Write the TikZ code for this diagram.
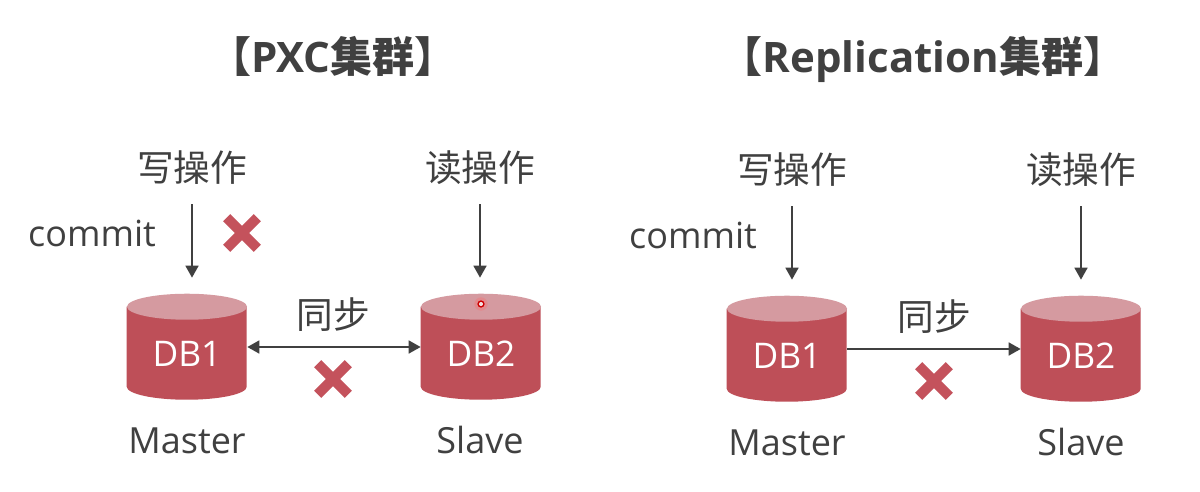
\documentclass[tikz,border=0pt]{standalone}
\usepackage{fontspec}
\setmainfont{Open Sans}
\newfontfamily\cjk{Noto Sans CJK SC}
\usetikzlibrary{arrows.meta}
\definecolor{dbred}{HTML}{BE4F58}
\definecolor{dbtop}{HTML}{D59AA0}
\definecolor{xred}{HTML}{C4525C}
\definecolor{txt}{HTML}{404040}
\tikzset{
 every node/.style={text=txt,inner sep=0pt},
 lab/.style={font=\fontsize{27pt}{28pt}\selectfont,text height=20pt,text depth=0pt},
 zh/.style={font=\cjk\fontsize{27.5pt}{28pt}\selectfont,text height=20pt,text depth=0pt},
 ttl/.style={font=\cjk\fontsize{31.5pt}{32pt}\selectfont\bfseries,text height=23pt,text depth=0pt},
 dbbox/.style={minimum width=90pt,minimum height=79.5pt},
 dblab/.style={font=\fontsize{26.5pt}{27pt}\selectfont,text=white},
 conn/.style={draw=txt,line width=1.8pt,-{Stealth[length=9pt,width=9.5pt,inset=0pt]}},
 both/.style={draw=txt,line width=1.8pt,{Stealth[length=9pt,width=9.5pt,inset=0pt]}-{Stealth[length=9pt,width=9.5pt,inset=0pt]}},
 xbar/.style={draw=xred,line width=7.5pt},
}
\newcommand{\dbcyl}[4]{% name, x, y centre, label
 \node[dbbox] (#1) at (#2,#3) {};
 \fill[dbred] (#1.north west) ++(0,-9.75pt) -- ++(0,-60pt) arc[start angle=180,end angle=360,x radius=45pt,y radius=9.75pt] -- ++(0,60pt) -- cycle;
 \fill[dbtop] (#1.north) ++(0,-9.75pt) ellipse[x radius=45pt,y radius=9.75pt];
 \node[dblab] (#1t) at (#2,#3+7) {#4};
}
\newcommand{\xmark}[3]{%
 \coordinate (#1) at (#2,#3);
 \draw[xbar] (#1) ++(-11.5pt,-11.5pt) -- ++(23pt,23pt);
 \draw[xbar] (#1) ++(-11.5pt,11.5pt) -- ++(23pt,-23pt);
}
\begin{document}
\begin{tikzpicture}[x=0.75pt,y=-0.75pt]
\useasboundingbox (0,0) rectangle (1200,492);
\fill[white] (0,0) rectangle (1200,492);
\node[ttl] (t1) at (333,57) {【\textrm{PXC}集群】};
\node[ttl] (t2) at (923,57) {【\textrm{Replication}集群】};
% left cluster
\dbcyl{a1}{187}{347}{DB1}
\dbcyl{a2}{481}{347}{DB2}
\node[zh] (aw) at (192,168) {写操作};
\node[zh] (ar) at (480,168) {读操作};
\node[lab] (ac) at (92,233) {commit};
\node[zh] (as) at (333,315) {同步};
\node[lab] (am) at (187,440) {Master};
\node[lab] (asl) at (480,440) {Slave};
\draw[conn,shorten <=17pt,shorten >=12pt] (aw.south) -- (aw.south |- a1.north);
\draw[conn,shorten <=17pt,shorten >=12pt] (ar.south) -- (ar.south |- a2.north);
\draw[both] (a1.east) -- (a2.west);
\xmark{ax1}{242}{233}
\xmark{ax2}{333}{379}
\fill[red!60!white,opacity=.3] (481,304) circle (5pt);
\fill[white!70!dbtop] (481,304) circle (1.6pt);
\draw[red!80!black,line width=1pt] (481,304) circle (2.2pt);
% right cluster
\dbcyl{b1}{787}{349}{DB1}
\dbcyl{b2}{1081}{349}{DB2}
\node[zh] (bw) at (792,170) {写操作};
\node[zh] (br) at (1081,170) {读操作};
\node[lab] (bc) at (693,235) {commit};
\node[zh] (bs) at (934,317) {同步};
\node[lab] (bm) at (787,442) {Master};
\node[lab] (bsl) at (1081,442) {Slave};
\draw[conn,shorten <=17pt,shorten >=12pt] (bw.south) -- (bw.south |- b1.north);
\draw[conn,shorten <=17pt,shorten >=12pt] (br.south) -- (br.south |- b2.north);
\draw[conn] (b1.east) -- (b2.west);
\xmark{bx}{934}{381}
\end{tikzpicture}
\end{document}
